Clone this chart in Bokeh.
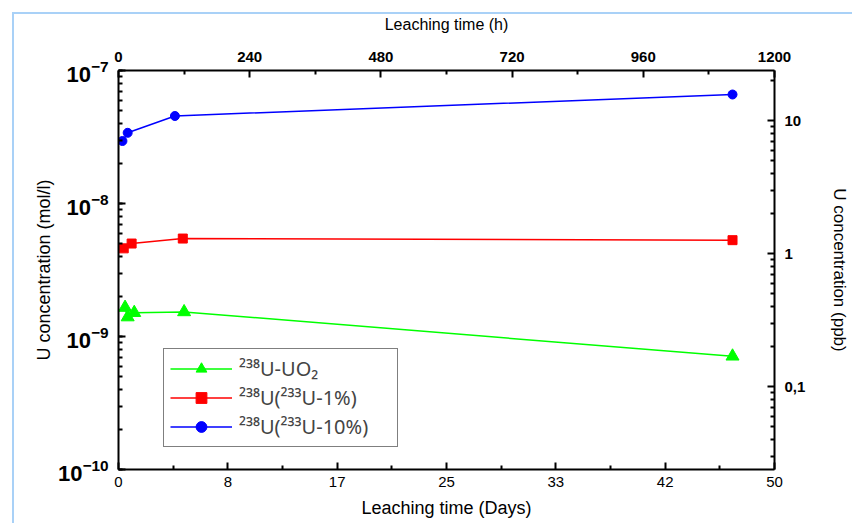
from bokeh.plotting import figure
from bokeh.models import (Range1d, LogAxis, LinearAxis, FixedTicker, LogTicker,
                          CustomJSTickFormatter, Legend, LegendItem)
from bokeh.embed import file_html
from bokeh.resources import INLINE

# ---- data ----
days_uo2 = [0.5, 0.7, 1.2, 5.0, 46.8]
conc_uo2 = [1.65e-9, 1.40e-9, 1.51e-9, 1.53e-9, 7.1e-10]

days_1pct = [0.4, 1.0, 4.9, 46.8]
conc_1pct = [4.6e-9, 5.0e-9, 5.45e-9, 5.3e-9]

days_10pct = [0.3, 0.7, 4.3, 46.8]
conc_10pct = [2.95e-8, 3.4e-8, 4.55e-8, 6.6e-8]

x_ticks_days = [0, 50/6, 100/6, 25, 200/6, 250/6, 50]
x_minor_days = [25/6, 75/6, 125/6, 175/6, 225/6, 275/6]
top_ticks_h = [0, 240, 480, 720, 960, 1200]
top_minor_h = [120, 360, 600, 840, 1080]
right_ticks_ppb = [0.1, 1, 10]
right_minor_ppb = [0.03, 0.04, 0.05, 0.06, 0.07, 0.08, 0.09,
                   0.2, 0.3, 0.4, 0.5, 0.6, 0.7, 0.8, 0.9,
                   2, 3, 4, 5, 6, 7, 8, 9, 20]
molar_mass_u238 = 238.0  # g/mol

y_min, y_max = 1e-10, 1e-7
FONT = "Liberation Sans"

p = figure(width=852, height=523, output_backend="svg", toolbar_location=None,
           x_axis_type="linear", y_axis_type="log",
           x_range=Range1d(0, 50), y_range=Range1d(y_min, y_max),
           min_border_left=118, min_border_top=70, min_border_right=77,
           min_border_bottom=54)
p.grid.visible = False
p.outline_line_color = None
p.background_fill_color = "white"
p.border_fill_color = "white"
p.border_fill_alpha = 0
p.styles = {"box-shadow": "inset 12px 12px 0 0 #ffffff, inset 14px 14px 0 0 #a9d1f7"}

ppb_lo = y_min * molar_mass_u238 * 1e6
ppb_hi = y_max * molar_mass_u238 * 1e6
p.extra_y_ranges = {"ppb": Range1d(ppb_lo, ppb_hi)}
p.extra_x_ranges = {"hours": Range1d(0, 1200)}

def style_axis(ax):
    ax.axis_line_width = 2
    ax.axis_line_color = "black"
    ax.major_tick_in = 7
    ax.major_tick_out = 0
    ax.minor_tick_in = 4
    ax.minor_tick_out = 0
    ax.major_tick_line_width = 2
    ax.minor_tick_line_width = 2
    ax.major_label_text_font = FONT
    ax.axis_label_text_font = FONT
    ax.axis_label_text_font_style = "normal"
    ax.major_label_text_color = "black"
    ax.axis_label_text_color = "black"

# bottom axis
xb = p.xaxis[0]
xb.ticker = FixedTicker(ticks=x_ticks_days, minor_ticks=x_minor_days)
xb.formatter = CustomJSTickFormatter(code="return Math.round(tick).toString();")
xb.axis_label = "Leaching time (Days)"
style_axis(xb)
xb.major_label_text_font_size = "15px"
xb.axis_label_text_font_size = "18px"
xb.major_label_standoff = 7
xb.axis_label_standoff = 8

# left axis
yl = p.yaxis[0]
yl.ticker = LogTicker(num_minor_ticks=10)
yl.axis_label = "U concentration (mol/l)"
style_axis(yl)
yl.major_label_text_font_size = "22px"
yl.major_label_text_font_style = "bold"
yl.axis_label_text_font_size = "18px"
yl.major_label_standoff = 10
yl.axis_label_standoff = 1

# right axis (ppb)
yr = LogAxis(y_range_name="ppb", axis_label="U concentration (ppb)")
yr.ticker = FixedTicker(ticks=right_ticks_ppb, minor_ticks=right_minor_ppb)
yr.formatter = CustomJSTickFormatter(code="return tick < 0.5 ? '0,1' : tick.toFixed(0);")
style_axis(yr)
yr.major_label_text_font_size = "15px"
yr.major_label_text_font_style = "bold"
yr.axis_label_text_font_size = "17px"
yr.major_label_standoff = 10
yr.axis_label_standoff = 22
p.add_layout(yr, "right")

# top axis (hours)
xt = LinearAxis(x_range_name="hours", axis_label="Leaching time (h)")
xt.ticker = FixedTicker(ticks=top_ticks_h, minor_ticks=top_minor_h)
style_axis(xt)
xt.major_label_text_font_size = "15px"
xt.major_label_text_font_style = "bold"
xt.axis_label_text_font_size = "16px"
xt.major_label_standoff = 9
xt.axis_label_standoff = 16
p.add_layout(xt, "above")

# series
l1 = p.line(days_uo2, conc_uo2, line_color="#00ff00", line_width=1.5)
m1 = p.scatter(days_uo2, conc_uo2, marker="triangle", size=13,
               fill_color="#00ff00", line_color="#00ff00")
l2 = p.line(days_1pct, conc_1pct, line_color="#ff0000", line_width=1.5)
m2 = p.scatter(days_1pct, conc_1pct, marker="square", size=9,
               fill_color="#ff0000", line_color="#ff0000")
l3 = p.line(days_10pct, conc_10pct, line_color="#0000ff", line_width=1.5)
m3 = p.scatter(days_10pct, conc_10pct, marker="circle", size=9,
               fill_color="#0000ff", line_color="#0000ff")

legend = Legend(items=[
    LegendItem(label="²³⁸U-UO₂", renderers=[l1, m1]),
    LegendItem(label="²³⁸U(²³³U-1%)", renderers=[l2, m2]),
    LegendItem(label="²³⁸U(²³³U-10%)", renderers=[l3, m3]),
], location=(45, 22))
legend.label_text_font = "Noto Sans"
legend.label_text_font_size = "20px"
legend.label_width = 152
legend.glyph_width = 62
legend.glyph_height = 27
legend.label_height = 27
legend.spacing = 2
legend.padding = 6
legend.margin = 0
legend.label_standoff = 7
legend.border_line_color = "black"
legend.border_line_width = 1.5
legend.background_fill_color = "white"
legend.background_fill_alpha = 1
p.add_layout(legend, "center")

open("out.html", "w").write(file_html(p, INLINE))
